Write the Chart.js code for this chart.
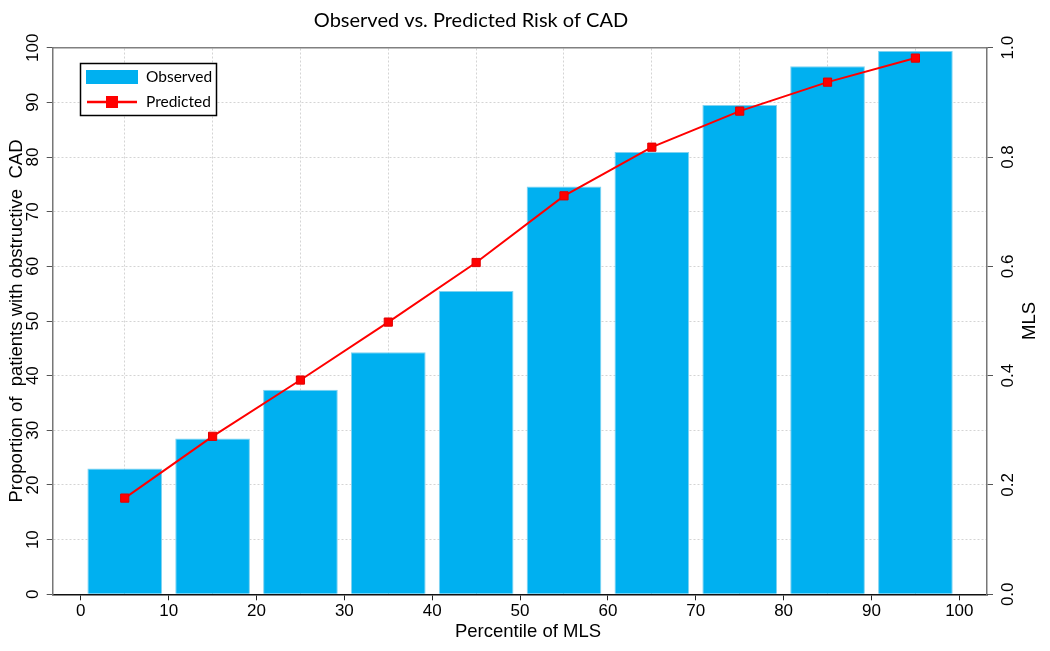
<!DOCTYPE html>
<html>
<head>
<meta charset="utf-8">
<script src="https://cdn.jsdelivr.net/npm/chart.js@4.4.0/dist/chart.umd.min.js"></script>
<style>
html, body { margin: 0; padding: 0; background: #fff; }
</style>
</head>
<body>
<canvas id="myChart" width="1050" height="651"></canvas>
<script>
// data
const percentiles = [5, 15, 25, 35, 45, 55, 65, 75, 85, 95];
const observed = [23.0, 28.5, 37.4, 44.3, 55.5, 74.6, 80.9, 89.5, 96.6, 99.4];
const predicted = [0.176, 0.289, 0.392, 0.498, 0.607, 0.729, 0.818, 0.884, 0.937, 0.981];
const xTicks = [0, 10, 20, 30, 40, 50, 60, 70, 80, 90, 100];
const yTicks = [0, 10, 20, 30, 40, 50, 60, 70, 80, 90, 100];
const y2Ticks = [0, 0.2, 0.4, 0.6, 0.8, 1.0];

const barColor = '#00b0f0';
const lineColor = '#ff0000';
const tickFont = { family: 'Liberation Sans', size: 17 };
const titleFont = { family: 'Liberation Sans', size: 18.5 };

const obsPoints = percentiles.map((p, i) => ({ x: p, y: observed[i] }));
const predPoints = percentiles.map((p, i) => ({ x: p, y: predicted[i] }));

// title, x title, right axis title and legend drawn by hand
const extras = {
  id: 'extras',
  afterDraw(chart) {
    const ctx = chart.ctx;
    const area = chart.chartArea;
    ctx.save();
    ctx.fillStyle = '#000';
    ctx.font = '20px Lato';
    ctx.textAlign = 'center';
    ctx.textBaseline = 'middle';
    ctx.fillText('Observed vs. Predicted Risk of CAD', 471, 21);

    ctx.font = '18.5px "Liberation Sans"';
    ctx.fillText('Percentile of MLS', 528, 632);
    ctx.save();
    ctx.translate(1030, (area.top + area.bottom) / 2);
    ctx.rotate(-Math.PI / 2);
    ctx.fillText('MLS', 0, 0);
    ctx.restore();

    // legend
    const ds = chart.data.datasets;
    ctx.fillStyle = '#fff';
    ctx.fillRect(80, 63, 137, 53);
    ctx.lineWidth = 1.5;
    ctx.strokeStyle = '#000';
    ctx.strokeRect(80.5, 63.5, 136, 52);
    ctx.fillStyle = barColor;
    ctx.fillRect(86, 70, 52, 14);
    ctx.strokeStyle = lineColor;
    ctx.lineWidth = 2.5;
    ctx.beginPath();
    ctx.moveTo(87, 102);
    ctx.lineTo(137, 102);
    ctx.stroke();
    ctx.fillStyle = lineColor;
    ctx.fillRect(106, 96, 12, 12);
    ctx.fillStyle = '#000';
    ctx.font = '15.5px Lato';
    ctx.textAlign = 'left';
    ctx.fillText(ds[1].label, 146, 77);
    ctx.fillText(ds[0].label, 146, 102);
    ctx.restore();
  }
};

const ctx = document.getElementById('myChart');
const myChart = new Chart(ctx, {
  type: 'bar',
  data: {
    datasets: [{
      type: 'line',
      label: 'Predicted',
      data: predPoints,
      yAxisID: 'y2',
      borderColor: lineColor,
      borderWidth: 2,
      pointStyle: 'rect',
      pointRadius: 5.8,
      pointBackgroundColor: lineColor,
      pointBorderColor: '#e00000',
      pointBorderWidth: 1,
      fill: false,
      tension: 0
    }, {
      label: 'Observed',
      data: obsPoints,
      yAxisID: 'y',
      backgroundColor: barColor,
      borderColor: '#7fd2f0',
      borderWidth: 1,
      barPercentage: 0.85,
      categoryPercentage: 1
    }]
  },
  options: {
    responsive: false,
    animation: false,
    devicePixelRatio: 1,
    layout: { padding: { top: 47.7, left: 0, right: 0, bottom: 0 } },
    plugins: {
      legend: { display: false },
      title: { display: false },
      tooltip: { enabled: false }
    },
    scales: {
      x: {
        type: 'linear',
        position: 'bottom',
        offset: false,
        min: -3.2,
        max: 103.15,
        afterBuildTicks: s => { s.ticks = xTicks.map(v => ({ value: v })); },
        afterFit: s => { s.height = 56.7; },
        grid: { offset: false, drawOnChartArea: false, tickLength: 6, tickColor: '#222' },
        border: { color: '#111', width: 1.5 },
        ticks: { font: tickFont, color: '#000', padding: 1, maxRotation: 0, autoSkip: false }
      },
      xg: {
        type: 'linear',
        position: 'top',
        offset: false,
        min: -3.2,
        max: 103.15,
        afterBuildTicks: s => { s.ticks = percentiles.map(v => ({ value: v })); },
        afterFit: s => { s.height = 0; },
        grid: { offset: false, color: '#d4d4d4', drawTicks: false },
        border: { display: true, color: '#808080', width: 1.5, dash: [2, 2] },
        ticks: { display: false }
      },
      y: {
        position: 'left',
        min: 0,
        max: 100,
        afterBuildTicks: s => { s.ticks = yTicks.map(v => ({ value: v })); },
        afterFit: s => { s.width = 52.7; },
        grid: { color: '#d4d4d4', tickLength: 6, tickColor: '#555' },
        border: { color: '#777', width: 1.5, dash: [2, 2] },
        ticks: { font: tickFont, color: '#000', padding: -1, minRotation: 90, maxRotation: 90, crossAlign: 'center' },
        title: { display: true, text: 'Proportion of  patients with obstructive  CAD', font: titleFont, color: '#000', padding: { top: 6, bottom: 0 } }
      },
      y2: {
        position: 'right',
        min: 0,
        max: 1,
        afterBuildTicks: s => { s.ticks = y2Ticks.map(v => ({ value: v })); },
        afterFit: s => { s.width = 63; },
        grid: { drawOnChartArea: false, tickLength: 6, tickColor: '#555' },
        border: { color: '#777', width: 1.5 },
        ticks: { font: tickFont, color: '#000', padding: 3, minRotation: 90, maxRotation: 90, crossAlign: 'center', callback: v => v.toFixed(1) }
      }
    }
  },
  plugins: [extras]
});
</script>
</body>
</html>
